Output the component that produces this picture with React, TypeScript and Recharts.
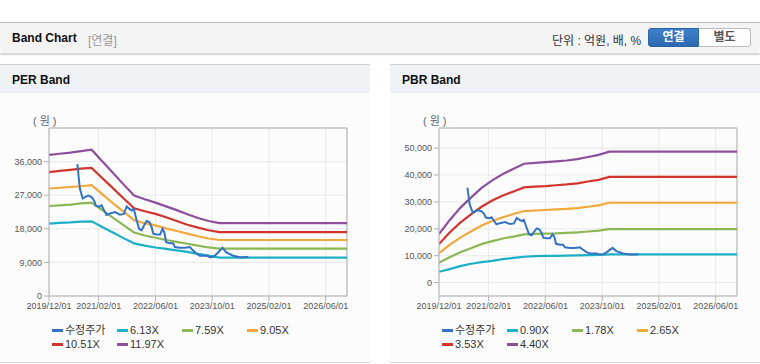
import { LineChart, Line, XAxis, YAxis, CartesianGrid, ReferenceLine } from 'recharts'

// x axis is months since 2019/12/01
const X_TICKS = [0, 14, 30, 46, 62, 78]
const X_LABELS = ['2019/12/01', '2021/02/01', '2022/06/01', '2023/10/01', '2025/02/01', '2026/06/01']
const X_END = 84

const BAND_MONTHS = [0, 3, 6, 9, 12, 15, 18, 21, 24, 27, 30, 33, 36, 39, 42, 45, 48, 84]

// 수정주가 (same stock in both panels)
const PRICE_MONTHS = [
  8.0, 8.4, 8.7, 9.5, 10.4, 11.1, 12.0, 12.7, 13.2, 14.2, 14.8, 15.5, 16.2, 17.2, 18.6, 20.0, 21.1, 21.9,
  22.6, 23.3, 23.9, 24.7, 25.4, 26.1, 26.8, 27.5, 28.3, 28.9, 29.4, 30.3, 31.3, 32.0, 32.5, 33.0, 34.1,
  35.0, 35.5, 36.9, 38.3, 39.7, 40.5, 41.6, 42.5, 44.4, 45.4, 46.3, 47.4, 48.9, 50.0, 51.9, 53.8, 55.2, 56.2,
]
const PRICE = [
  35300, 31500, 28800, 26100, 26600, 26900, 26500, 25600, 24200, 23900, 24300, 23000, 21700, 22100, 22500,
  21800, 22000, 24000, 23400, 22900, 23400, 20300, 18000, 17600, 18900, 20100, 19800, 18500, 16700, 16500,
  16500, 18000, 17100, 14400, 14100, 14100, 13100, 12900, 12900, 13100, 12300, 11300, 10800, 10800, 10400,
  10500, 11400, 12900, 11700, 10800, 10400, 10400, 10500,
]

// PER band
const PER_NAMES = ['6.13X', '7.59X', '9.05X', '10.51X', '11.97X']
const PER_613 = [19400, 19600, 19700, 19900, 20000, 18500, 17000, 15500, 14100, 13500, 13000, 12600, 12200, 11800, 11300, 10800, 10300, 10300]
const PER_759 = [24100, 24300, 24500, 24800, 25000, 23000, 21000, 19000, 17000, 16200, 15600, 15000, 14500, 14000, 13500, 13000, 12700, 12700]
const PER_905 = [28800, 29000, 29200, 29400, 29700, 27300, 24900, 22600, 20300, 19500, 18900, 18100, 17400, 16700, 16000, 15400, 15000, 15000]
const PER_1051 = [33200, 33500, 33800, 34100, 34300, 31600, 28900, 26200, 23500, 22700, 22000, 21100, 20100, 19100, 18300, 17600, 17100, 17100]
const PER_1197 = [37800, 38100, 38400, 38800, 39200, 36100, 33000, 29900, 26900, 25900, 25000, 24000, 23000, 21900, 20900, 20100, 19500, 19500]
const PER_Y_TICKS = [0, 9000, 18000, 27000, 36000]

// PBR band
const PBR_NAMES = ['0.90X', '1.78X', '2.65X', '3.53X', '4.40X']
const PBR_090 = [4000, 5000, 6100, 7000, 7600, 8100, 8700, 9200, 9600, 9800, 9900, 9900, 10000, 10100, 10200, 10300, 10500, 10500]
const PBR_178 = [7400, 9400, 11300, 12800, 14300, 15400, 16400, 17100, 17900, 18100, 18200, 18300, 18500, 18700, 19000, 19300, 19900, 19900]
const PBR_265 = [10900, 14000, 16700, 19000, 21200, 22900, 24300, 25500, 26600, 26800, 27000, 27200, 27400, 27700, 28200, 28700, 29700, 29700]
const PBR_353 = [14300, 18600, 22300, 25400, 28200, 30500, 32400, 33900, 35400, 35700, 35900, 36200, 36500, 36900, 37600, 38200, 39300, 39300]
const PBR_440 = [18000, 23200, 27800, 31600, 35200, 38000, 40400, 42300, 44200, 44500, 44800, 45100, 45400, 45900, 46700, 47500, 48700, 48700]
const PBR_Y_TICKS = [0, 10000, 20000, 30000, 40000, 50000]

const PRICE_COLOR = '#3473c4'
const BAND_COLORS = ['#1cb0c6', '#8db654', '#f2a83a', '#d2352d', '#8d4f9c']
const FONT = "'Liberation Sans', Arial, 'Noto Sans CJK KR', sans-serif"

const toPoints = (months: number[], vals: number[]) => months.map((m, i) => ({ m, v: vals[i] }))

interface PanelProps {
  left: number
  title: string
  names: string[]
  bands: number[][]
  yDomain: [number, number]
  yTicks: number[]
}

function BandPanel({ left, title, names, bands, yDomain, yTicks }: PanelProps) {
  const legend = [{ name: '수정주가', color: PRICE_COLOR }].concat(
    names.map((n, i) => ({ name: n, color: BAND_COLORS[i] }))
  )
  return (
    <div
      style={{
        position: 'absolute', left, top: 64, width: 370, height: 297,
        borderTop: '1px solid #d2d2d2', borderBottom: '1px solid #d6d6d6', background: '#fcfcfc',
      }}
    >
      <div
        style={{
          height: 28, background: '#eef1f6', fontWeight: 'bold', fontSize: 12,
          lineHeight: '30px', paddingLeft: 12, color: '#111',
        }}
      >
        {title}
      </div>
      <div style={{ position: 'absolute', left: 33, top: 47, fontSize: 11, color: '#666', letterSpacing: 3 }}>(원)</div>
      <div style={{ position: 'absolute', left: 0, top: 35 }}>
        <LineChart width={370} height={222} margin={{ top: 28, right: 23, left: 0, bottom: 0 }}>
          <CartesianGrid stroke="#e9e9e9" />
          <XAxis
            dataKey="m"
            type="number"
            domain={[0, X_END]}
            ticks={X_TICKS}
            interval={0}
            tickFormatter={v => X_LABELS[X_TICKS.indexOf(v)] ?? ''}
            tick={{ fontSize: 9, fill: '#555', fontFamily: FONT }}
            stroke="#b0b0b0"
            tickSize={5}
            height={26}
            allowDataOverflow
          />
          <YAxis
            type="number"
            domain={yDomain}
            ticks={yTicks}
            interval={0}
            tickFormatter={v => Number(v).toLocaleString('en-US')}
            tick={{ fontSize: 9, fill: '#555', fontFamily: FONT }}
            stroke="#b0b0b0"
            tickSize={5}
            width={49}
            allowDataOverflow
          />
          <ReferenceLine y={yDomain[1]} stroke="#b0b0b0" />
          <ReferenceLine x={X_END} stroke="#b0b0b0" />
          {bands.map((b, i) => (
            <Line
              key={names[i]}
              data={toPoints(BAND_MONTHS, b)}
              dataKey="v"
              name={names[i]}
              type="linear"
              stroke={BAND_COLORS[i]}
              strokeWidth={2.2}
              dot={false}
              isAnimationActive={false}
            />
          ))}
          <Line
            data={toPoints(PRICE_MONTHS, PRICE)}
            dataKey="v"
            name="수정주가"
            type="linear"
            stroke={PRICE_COLOR}
            strokeWidth={2}
            dot={false}
            isAnimationActive={false}
          />
        </LineChart>
      </div>
      <div
        style={{
          position: 'absolute', left: 52, top: 259, width: 270, display: 'flex', flexWrap: 'wrap',
          fontSize: 11, color: '#333', lineHeight: '13.5px',
        }}
      >
        {legend.map(l => (
          <div key={l.name} style={{ width: 65, display: 'flex', alignItems: 'center' }}>
            <span style={{ display: 'inline-block', width: 11, height: 3, background: l.color, marginRight: 2 }} />
            {l.name}
          </div>
        ))}
      </div>
    </div>
  )
}

export default function App() {
  return (
    <div
      style={{
        position: 'absolute', left: 0, top: 0, width: 760, height: 364, background: '#fff',
        overflow: 'hidden', fontFamily: FONT,
      }}
    >
      <div
        style={{
          position: 'absolute', left: 0, top: 22, width: 760, height: 30, background: '#f4f4f4',
          borderTop: '1px solid #bdbdbd', boxShadow: '0 2px 2px rgba(0,0,0,0.18)',
        }}
      >
        <span style={{ position: 'absolute', left: 12, top: 8, fontSize: 12, fontWeight: 'bold', color: '#111' }}>
          Band Chart
        </span>
        <span style={{ position: 'absolute', left: 88, top: 8, fontSize: 12, color: '#999' }}>[연결]</span>
        <span style={{ position: 'absolute', left: 552, top: 8, fontSize: 12, color: '#333' }}>단위 : 억원, 배, %</span>
        <div
          style={{
            position: 'absolute', left: 648, top: 5, width: 51, height: 19, boxSizing: 'border-box',
            background: 'linear-gradient(#3f80cc, #2c69b0)', border: '1px solid #2a63a6',
            borderRadius: '3px 0 0 3px', color: '#fff', fontWeight: 'bold', fontSize: 12,
            textAlign: 'center', lineHeight: '17px',
          }}
        >
          연결
        </div>
        <div
          style={{
            position: 'absolute', left: 699, top: 5, width: 52, height: 19, boxSizing: 'border-box',
            background: '#fff', border: '1px solid #bdbdbd', borderLeft: 'none',
            borderRadius: '0 3px 3px 0', color: '#555', fontWeight: 'bold', fontSize: 12,
            textAlign: 'center', lineHeight: '17px',
          }}
        >
          별도
        </div>
      </div>
      <BandPanel
        left={0}
        title="PER Band"
        names={PER_NAMES}
        bands={[PER_613, PER_759, PER_905, PER_1051, PER_1197]}
        yDomain={[0, 45000]}
        yTicks={PER_Y_TICKS}
      />
      <BandPanel
        left={390}
        title="PBR Band"
        names={PBR_NAMES}
        bands={[PBR_090, PBR_178, PBR_265, PBR_353, PBR_440]}
        yDomain={[-5000, 57500]}
        yTicks={PBR_Y_TICKS}
      />
    </div>
  )
}
